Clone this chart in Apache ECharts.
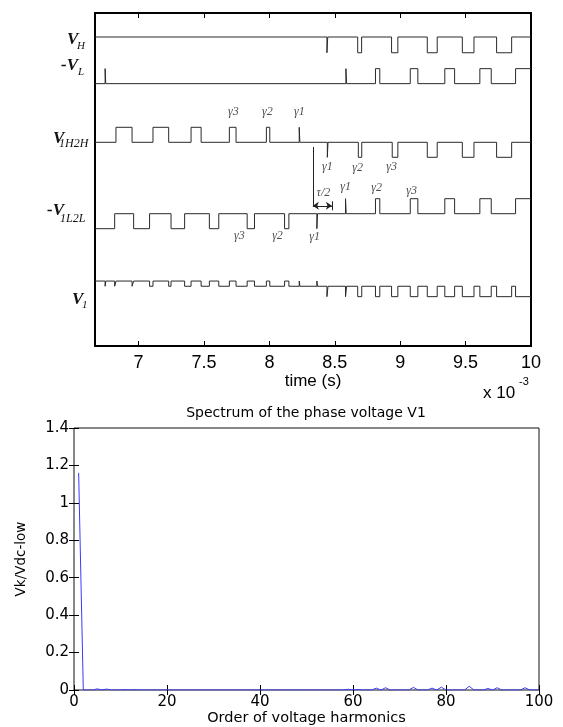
<!DOCTYPE html>
<html><head><meta charset="utf-8">
<script src="https://cdn.jsdelivr.net/npm/echarts@6/dist/echarts.min.js"></script>
<style>html,body{margin:0;padding:0;background:#fff}#c{width:563px;height:727px}</style>
</head><body><div id="c"></div>
<script>
// ---------- Top panel: switching waveforms (time in ms, logic levels) ----------
const timeTicks = [7, 7.5, 8, 8.5, 9, 9.5, 10];
const timeMin = 6.6667, timeMax = 10;

const vH = [[6.6667,1],[8.440,0],[8.446,1],[8.675,0],[8.705,1],[8.934,0],[8.982,1],[9.207,0],[9.283,1],[9.475,0],[9.564,1],[9.737,0],[9.852,1],[10,1]];
const vL = [[6.6667,0],[6.744,1],[6.749,0],[8.585,1],[8.590,0],[8.811,1],[8.844,0],[9.077,1],[9.135,0],[9.341,1],[9.416,0],[9.609,1],[9.696,0],[9.882,1],[10,1]];
const v1H2H = [[6.6667,0],[6.827,1],[6.950,0],[7.110,1],[7.230,0],[7.401,1],[7.478,0],[7.694,1],[7.745,0],[7.977,1],[8.003,0],[8.228,1],[8.233,0],[8.443,-1],[8.448,0],[8.680,-1],[8.706,0],[8.939,-1],[8.982,0],[9.207,-1],[9.283,0],[9.475,-1],[9.564,0],[9.737,-1],[9.852,0],[10,0]];
const v1L2L = [[6.6667,0],[6.817,1],[6.962,0],[7.084,1],[7.248,0],[7.352,1],[7.541,0],[7.613,1],[7.830,0],[7.886,1],[8.116,0],[8.149,1],[8.363,0],[8.368,1],[8.582,2],[8.587,1],[8.811,2],[8.844,1],[9.077,2],[9.135,1],[9.341,2],[9.416,1],[9.609,2],[9.696,1],[9.882,2],[10,2]];
const v1 = [[6.6667,0],[6.744,-1],[6.749,0],[6.817,-1],[6.827,0],[6.950,-1],[6.962,0],[7.084,-1],[7.110,0],[7.230,-1],[7.248,0],[7.352,-1],[7.401,0],[7.478,-1],[7.541,0],[7.613,-1],[7.694,0],[7.745,-1],[7.830,0],[7.886,-1],[7.977,0],[8.003,-1],[8.116,0],[8.149,-1],[8.228,0],[8.233,-1],[8.363,0],[8.368,-1],
  [8.440,-3],[8.448,-1],[8.582,-3],[8.590,-1],[8.675,-3],[8.706,-1],[8.811,-3],[8.844,-1],[8.934,-3],[8.982,-1],[9.077,-3],[9.135,-1],[9.207,-3],[9.283,-1],[9.341,-3],[9.416,-1],[9.475,-3],[9.564,-1],[9.609,-3],[9.696,-1],[9.737,-3],[9.852,-1],[9.882,-3],[10,-3]];

// annotation texts and their (time, height) anchors
const annoText = ['γ3','γ2','γ1','γ1','γ2','γ3','γ1','γ2','γ3','τ/2','γ3','γ2','γ1'];
const annoAt = [[7.725,15.6],[7.985,15.6],[8.230,15.6],[8.444,11.93],[8.674,11.87],[8.934,11.93],[8.582,10.6],[8.82,10.53],[9.088,10.33],[8.413,10.2],[7.771,7.33],[8.062,7.33],[8.345,7.27]];

// ---------- Bottom panel: spectrum ----------
const spectrumValues = [
  1.16,0,0,0,0.006,0,0.005,0,0,0,
  0.002,0,0.002,0,0,0,0,0,0,0,
  0,0,0,0,0,0,0,0,0,0,
  0,0,0,0,0,0,0,0,0,0,
  0,0,0,0,0,0,0,0,0,0,
  0,0,0,0,0,0,0,0,0.004,0,
  0.003,0,0,0,0.01,0,0.012,0,0,0,
  0,0,0.014,0,0,0,0.01,0,0.015,0,
  0,0,0,0,0.02,0,0,0,0.008,0,
  0.012,0,0,0,0,0,0.012,0,0,0
];

// ---------- layout/styling (not data) ----------
const trace = {
  vH:{base:19.55, amp:1.05}, vL:{base:17.49, amp:1.0},
  v1H2H:{base:13.58, amp:1.0}, v1L2L:{base:7.82, amp:1.0}, v1:{base:4.33, amp:0.347}
};
const wave = (edges, k) => edges.map(([t,l]) => [t, trace[k].base + l*trace[k].amp]);
const waveSeries = (edges, k) => ({
  type:'line', xAxisIndex:0, yAxisIndex:0, step:'end', symbol:'none', silent:true,
  lineStyle:{color:'#2a2a2a', width:1}, data: wave(edges, k), animation:false
});

const serif = 'Liberation Serif';
const lab = (txt, x, y, size, bold) => ({type:'text', x, y, style:{text:txt, fill:'#111',
  font:`italic ${bold?'bold ':''}${size}px "${serif}"`, textAlign:'left', textVerticalAlign:'top', align:'left', verticalAlign:'top'}});

const chart = echarts.init(document.getElementById('c'), null, {renderer:'canvas'});
const axisTickStyle = {show:true, inside:true, length:5, lineStyle:{color:'#000', width:1}};
chart.setOption({
  animation:false,
  backgroundColor:'#fff',
  grid:[
    {left:95, top:13, width:436, height:333, show:true, borderColor:'#000', borderWidth:2, backgroundColor:'rgba(0,0,0,0)'},
    {left:74, top:428, width:465, height:264, show:true, borderColor:'#111', borderWidth:1, backgroundColor:'rgba(0,0,0,0)'}
  ],
  xAxis:[
    {gridIndex:0, type:'value', min:timeMin, max:timeMax, position:'bottom',
     axisLine:{show:false}, splitLine:{show:false},
     axisTick:Object.assign({customValues:timeTicks.slice(0,-1)}, axisTickStyle),
     axisLabel:{customValues:timeTicks, fontSize:18, fontFamily:'Liberation Sans', color:'#000', margin:8},
     name:'time (s)', nameLocation:'middle', nameGap:25, nameTextStyle:{fontSize:17, fontFamily:'Liberation Sans', color:'#000'}},
    {gridIndex:0, type:'value', min:timeMin, max:timeMax, position:'top',
     axisLine:{show:false}, splitLine:{show:false}, axisLabel:{show:false},
     axisTick:Object.assign({customValues:timeTicks.slice(0,-1)}, axisTickStyle)},
    {gridIndex:1, type:'value', min:0, max:100, interval:20, position:'bottom',
     axisLine:{show:false}, splitLine:{show:false}, axisTick:axisTickStyle,
     axisLabel:{fontSize:15, fontFamily:'DejaVu Sans', color:'#000', margin:5},
     name:'Order of voltage harmonics', nameLocation:'middle', nameGap:21,
     nameTextStyle:{fontSize:14.5, fontFamily:'DejaVu Sans', color:'#000'}},
    {gridIndex:1, type:'value', min:0, max:100, interval:20, position:'top',
     axisLine:{show:false}, splitLine:{show:false}, axisTick:axisTickStyle, axisLabel:{show:false}}
  ],
  yAxis:[
    {gridIndex:0, type:'value', min:0, max:22.2, show:false},
    {gridIndex:1, type:'value', min:0, max:1.4, interval:0.2, position:'left',
     axisLine:{show:false}, splitLine:{show:false}, axisTick:axisTickStyle,
     axisLabel:{fontSize:15, fontFamily:'DejaVu Sans', color:'#000', margin:5},
     name:'Vk/Vdc-low', nameLocation:'middle', nameGap:46, nameRotate:90,
     nameTextStyle:{fontSize:13.5, fontFamily:'DejaVu Sans', color:'#000'}},
    {gridIndex:1, type:'value', min:0, max:1.4, interval:0.2, position:'right',
     axisLine:{show:false}, splitLine:{show:false}, axisTick:axisTickStyle, axisLabel:{show:false}}
  ],
  series:[
    waveSeries(vH,'vH'), waveSeries(vL,'vL'), waveSeries(v1H2H,'v1H2H'), waveSeries(v1L2L,'v1L2L'), waveSeries(v1,'v1'),
    {type:'scatter', xAxisIndex:0, yAxisIndex:0, symbolSize:1, silent:true,
     itemStyle:{color:'rgba(0,0,0,0)'},
     label:{show:true, position:'inside', formatter:p => annoText[p.dataIndex],
       fontFamily:serif, fontStyle:'italic', fontSize:12, color:'#222'},
     data: annoAt},
    {type:'line', xAxisIndex:0, yAxisIndex:0, data:[], silent:true,
     markLine:{silent:true, symbol:['none','none'], symbolSize:6, label:{show:false},
       lineStyle:{color:'#222', width:1, type:'solid'},
       emphasis:{disabled:true},
       data:[
         [{coord:[8.332,13.27]},{coord:[8.332,9.33]}],
         [{coord:[8.332,9.35], symbol:'arrow'},{coord:[8.478,9.35], symbol:'arrow'}],
         [{coord:[8.478,9.05]},{coord:[8.478,9.65]}]
       ]}},
    {type:'line', xAxisIndex:2, yAxisIndex:1, symbol:'none', silent:true,
     lineStyle:{color:'#3a3aff', width:1},
     data: spectrumValues.map((v,i) => [i+1, v])}
  ],
  graphic:[
    lab('V',67,31,17,true), lab('H',77,41,11,false),
    lab('-V',61,57,17,true), lab('L',78,67,11,false),
    lab('V',53,130,17,true), lab('1H2H',59,138,12,false),
    lab('-V',47,202,17,true), lab('1L2L',60,213,12,false),
    lab('V',72,291,17,true), lab('1',82,300,11,false),
    {type:'text', x:483, y:385, style:{text:'x 10', fill:'#000', font:'17px "Liberation Sans"', textVerticalAlign:'top', verticalAlign:'top'}},
    {type:'text', x:519, y:376, style:{text:'-3', fill:'#000', font:'11px "Liberation Sans"', textVerticalAlign:'top', verticalAlign:'top'}},
    {type:'text', x:306, y:413, style:{text:'Spectrum of the phase voltage V1', fill:'#000', font:'14px "DejaVu Sans"', textAlign:'center', align:'center', textVerticalAlign:'middle', verticalAlign:'middle'}}
  ]
});
</script></body></html>
